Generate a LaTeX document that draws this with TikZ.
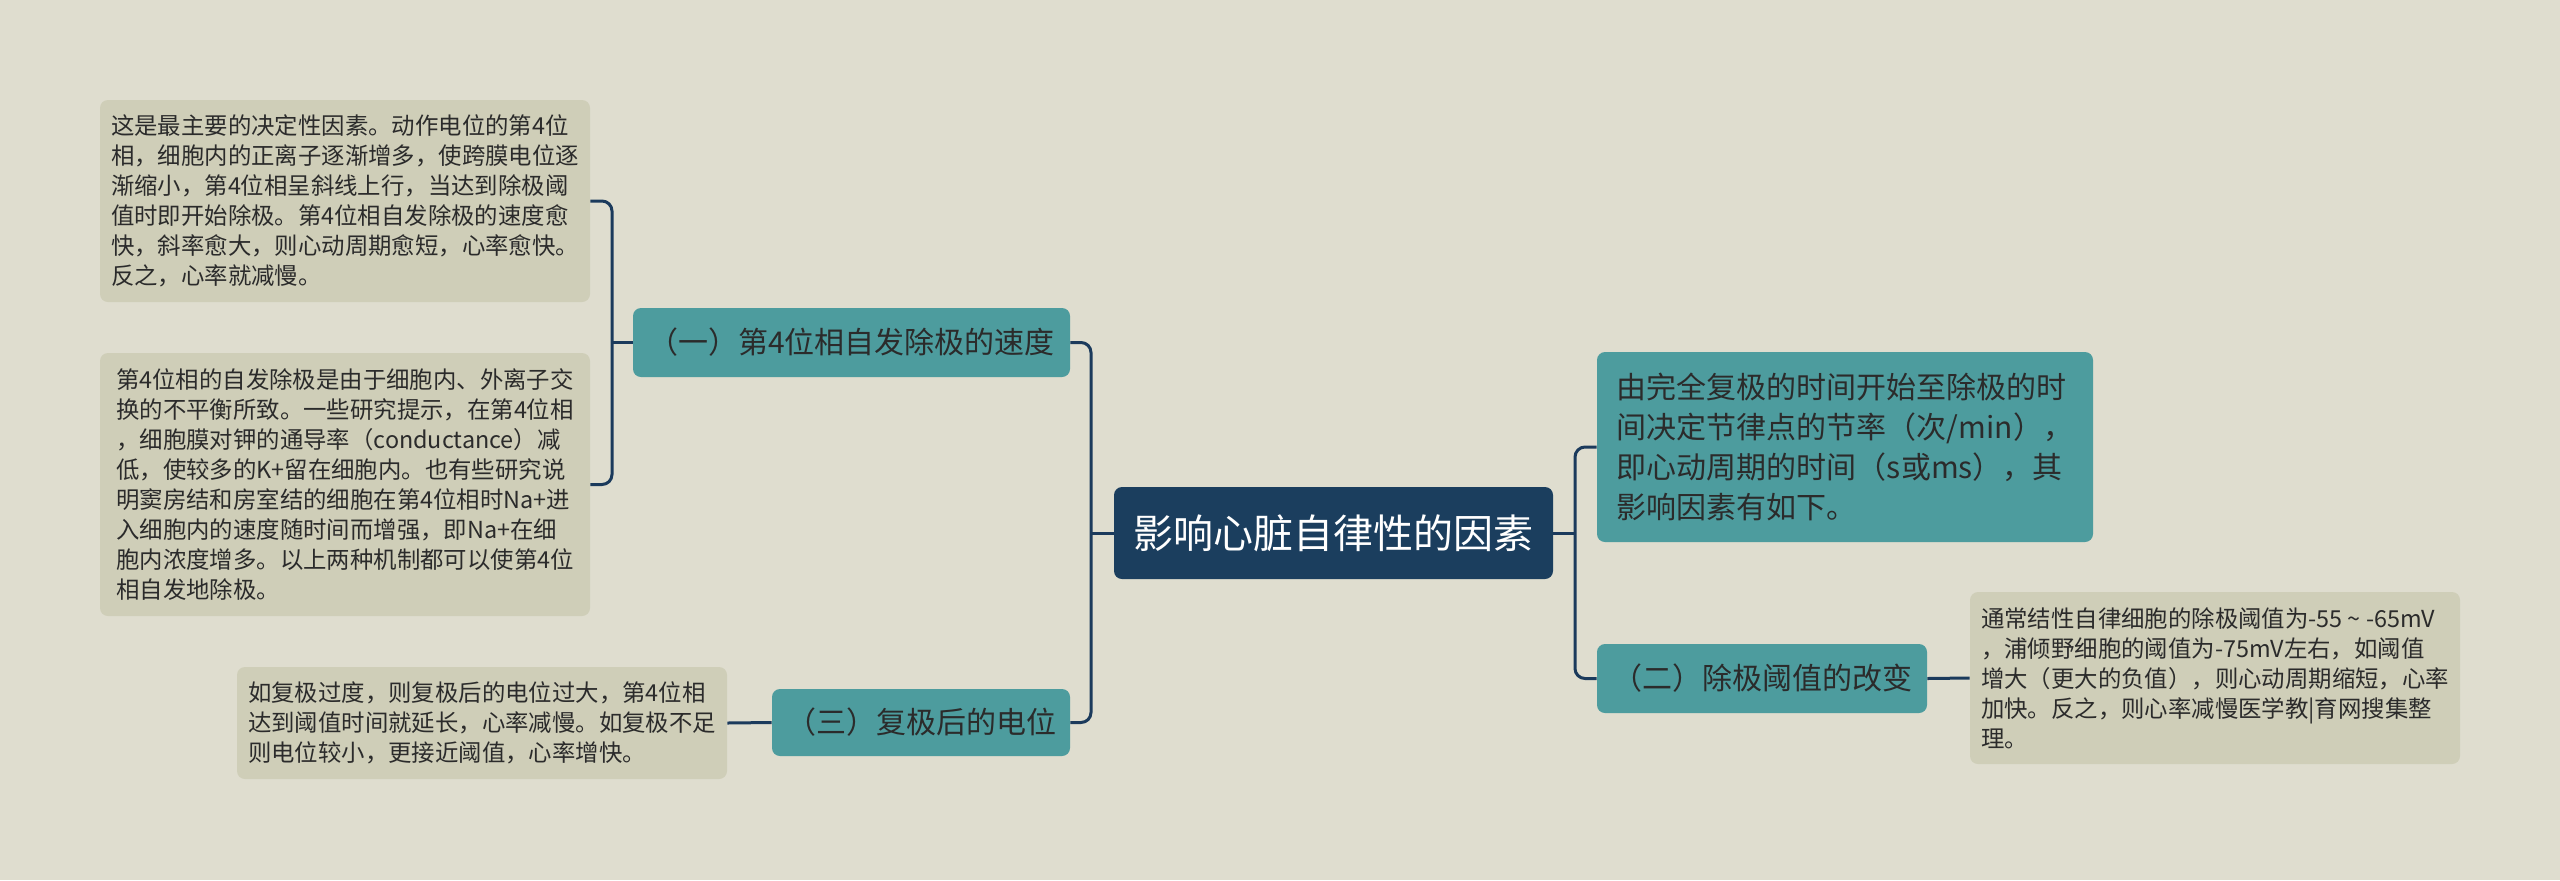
\documentclass[tikz,border=0pt]{standalone}
\usepackage{fontspec}
\newfontfamily\cjk{Noto Sans CJK SC}
\usetikzlibrary{positioning}
\definecolor{bgcol}{HTML}{DFDDCF}
\definecolor{rootcol}{HTML}{1B3E5E}
\definecolor{tealcol}{HTML}{4D9C9E}
\definecolor{leafcol}{HTML}{CFCEB8}
\definecolor{linecol}{HTML}{1B3A5C}
\definecolor{textcol}{HTML}{2B2B2B}
\tikzset{rootbox/.style={rectangle,rounded corners=4pt,fill=rootcol,text=white,
  font=\cjk\fontsize{20}{24}\selectfont,inner sep=0pt}}
\tikzset{topicbox/.style={rectangle,rounded corners=4pt,fill=tealcol,text=textcol,
  font=\cjk\fontsize{15}{20}\selectfont,align=left,inner sep=0pt}}
\tikzset{leafbox/.style={rectangle,rounded corners=4pt,fill=leafcol,text=textcol,
  font=\cjk\fontsize{11.7}{15}\selectfont,align=left,inner sep=0pt,minimum width=245pt}}
\tikzset{link/.style={draw=linecol,line width=1.5pt,rounded corners=5pt}}

\begin{document}
\begin{tikzpicture}[x=0.5pt,y=-0.5pt]
\useasboundingbox[fill=bgcol] (0,0) rectangle (2560,880);
% \draw[help lines,step=100] (0,0) grid (2560,880);
\node (root) [rootbox,minimum width=219.5pt,minimum height=46pt] at (1333.5,533) {影响心脏自律性的因素};
%
\node (b1) [topicbox,minimum width=218.5pt,minimum height=34.5pt] at (851.5,342.5) {（一）第4位相自发除极的速度};
\node (b3) [topicbox,minimum width=149pt,minimum height=33.5pt] at (921,722.5) {（三）复极后的电位};
\node (d1) [topicbox,minimum width=248pt,minimum height=95pt] at (1845,447) {由完全复极的时间开始至除极的时\\间决定节律点的节率（次/min），\\即心动周期的时间（s或ms），其\\影响因素有如下。};
\node (b2) [topicbox,minimum width=165pt,minimum height=34.5pt] at (1762,678.5) {（二）除极阈值的改变};
%
\node (l1) [leafbox,minimum height=101pt] at (345,201) {这是最主要的决定性因素。动作电位的第4位\\相，细胞内的正离子逐渐增多，使跨膜电位逐\\渐缩小，第4位相呈斜线上行，当达到除极阈\\值时即开始除极。第4位相自发除极的速度愈\\快，斜率愈大，则心动周期愈短，心率愈快。\\反之，心率就减慢。};
\node (l2) [leafbox,minimum height=131.5pt] at (345,484.5) {第4位相的自发除极是由于细胞内、外离子交\\换的不平衡所致。一些研究提示，在第4位相\\，细胞膜对钾的通导率（conductance）减\\低，使较多的K+留在细胞内。也有些研究说\\明窦房结和房室结的细胞在第4位相时Na+进\\入细胞内的速度随时间而增强，即Na+在细\\胞内浓度增多。以上两种机制都可以使第4位\\相自发地除极。};
\node (l3) [leafbox,minimum height=56pt] at (482,723) {如复极过度，则复极后的电位过大，第4位相\\达到阈值时间就延长，心率减慢。如复极不足\\则电位较小，更接近阈值，心率增快。};
\node (l4) [leafbox,minimum height=86pt] at (2215,678) {通常结性自律细胞的除极阈值为-55 \textasciitilde{} -65mV\\，浦倾野细胞的阈值为-75mV左右，如阈值\\增大（更大的负值），则心动周期缩短，心率\\加快。反之，则心率减慢医学教|育网搜集整\\理。};
%
\coordinate (jl) at (1091,533);
\coordinate (jr) at (1575,533);
\coordinate (jb) at (612,342.5);
\draw[link] (root.west) -- (jl);
\draw[link] (b1.east) -| (jl) |- (b3.east);
\draw[link] (root.east) -- (jr);
\draw[link] (d1.west) -| (jr) |- (b2.west);
\draw[link] (b1.west) -- (jb);
\draw[link] (l1.east) -| (jb) |- (l2.east);
\draw[link] (b3.west) -- (l3.east);
\draw[link] (b2.east) -- (l4.west);
\end{tikzpicture}
\end{document}
